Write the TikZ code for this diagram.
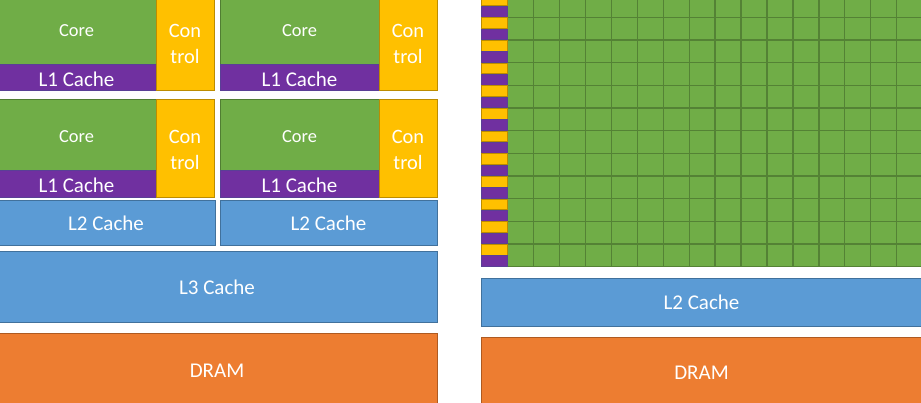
\documentclass[tikz,border=0pt]{standalone}
\usepackage{fontspec}
\setmainfont{Carlito}
\definecolor{cgreen}{HTML}{70AD47}
\definecolor{cgreenb}{HTML}{507E32}
\definecolor{cgrid}{HTML}{548235}
\definecolor{cgold}{HTML}{FFC000}
\definecolor{cgoldb}{HTML}{BC8C00}
\definecolor{cpurple}{HTML}{7030A0}
\definecolor{cpurpleb}{HTML}{5A3F96}
\definecolor{cblue}{HTML}{5B9BD5}
\definecolor{cblueb}{HTML}{41719C}
\definecolor{corange}{HTML}{ED7D31}
\definecolor{corangeb}{HTML}{AE5A21}
\begin{document}
\begin{tikzpicture}[x=1pt,y=-1pt,
  box/.style={draw, line width=0.9pt, inner sep=0pt, outer sep=0pt, anchor=north west, text=white, font=\fontsize{21}{21}\selectfont},
  corebox/.style={box, fill=cgreen, draw=cgreenb, font=\fontsize{18.4}{18.4}\selectfont, text height=16pt, text depth=0pt},
  l1box/.style={box, fill=cpurple, draw=cpurpleb, text height=18.5pt, text depth=0pt},
  ctlbox/.style={box, fill=cgold, draw=cgoldb},
  ctltext/.style={text=white, align=center, font=\fontsize{20.4}{26}\selectfont, yshift=-2pt},
  cachebox/.style={box, fill=cblue, draw=cblueb},
  drambox/.style={box, fill=corange, draw=corangeb}]
\useasboundingbox (0,0) rectangle (921,403);
\clip (0,0) rectangle (921,403);
% ---- CPU side ----
\foreach \r/\y in {1/-7.5, 2/99}{
  \foreach \c/\x/\w in {1/-3/159, 2/220/159}{
    \node[corebox, minimum width=\w pt, minimum height=71.5pt] (core\r\c) at (\x,\y) {Core};
    \node[l1box, minimum width=\w pt, minimum height=26.5pt] (lone\r\c) at (\x,\y+71.5) {L1 Cache};
    \node[ctlbox, minimum width=58pt, minimum height=98pt,
      label={[ctltext]center:Con\\trol}] (ctl\r\c) at (\x+\w,\y) {};
  }
}
\node[cachebox, minimum width=218pt, minimum height=45pt] (ltwoa) at (-3,200.7) {L2 Cache};
\node[cachebox, minimum width=217pt, minimum height=45pt] (ltwob) at (220,200.7) {L2 Cache};
\node[cachebox, minimum width=440pt, minimum height=71pt] (lthree) at (-3,251.7) {L3 Cache};
\node[drambox, minimum width=440pt, minimum height=74pt] (drama) at (-3,333.3) {DRAM};
% ---- GPU side ----
\def\gy{-5.3}
\def\rh{22.667}
\def\gx{507.7}
\def\cw{25.93}
\fill[cgreen] (\gx,\gy) rectangle (930,266.7);
\foreach \i in {0,...,17}{
  \draw[cgrid, line width=1.3pt] (\gx+\i*\cw,\gy) -- (\gx+\i*\cw,266.7);
}
\foreach \j in {0,...,12}{
  \draw[cgrid, line width=1.3pt] (\gx,\gy+\j*\rh) -- (930,\gy+\j*\rh);
}
\foreach \j in {0,...,11}{
  \draw[fill=cgold, draw=cgoldb, line width=0.8pt] (481.5,\gy+\j*\rh+0.4) rectangle (\gx-0.6,\gy+\j*\rh+\rh/2-0.4);
  \draw[fill=cpurple, draw=cpurpleb, line width=0.8pt] (481.5,\gy+\j*\rh+\rh/2+0.4) rectangle (\gx-0.6,\gy+\j*\rh+\rh-0.4);
}
\node[cachebox, minimum width=440pt, minimum height=47.7pt] (ltwog) at (481.5,278.3) {L2 Cache};
\node[drambox, minimum width=440pt, minimum height=70pt] (dramg) at (481.5,337.7) {DRAM};
\end{tikzpicture}
\end{document}
